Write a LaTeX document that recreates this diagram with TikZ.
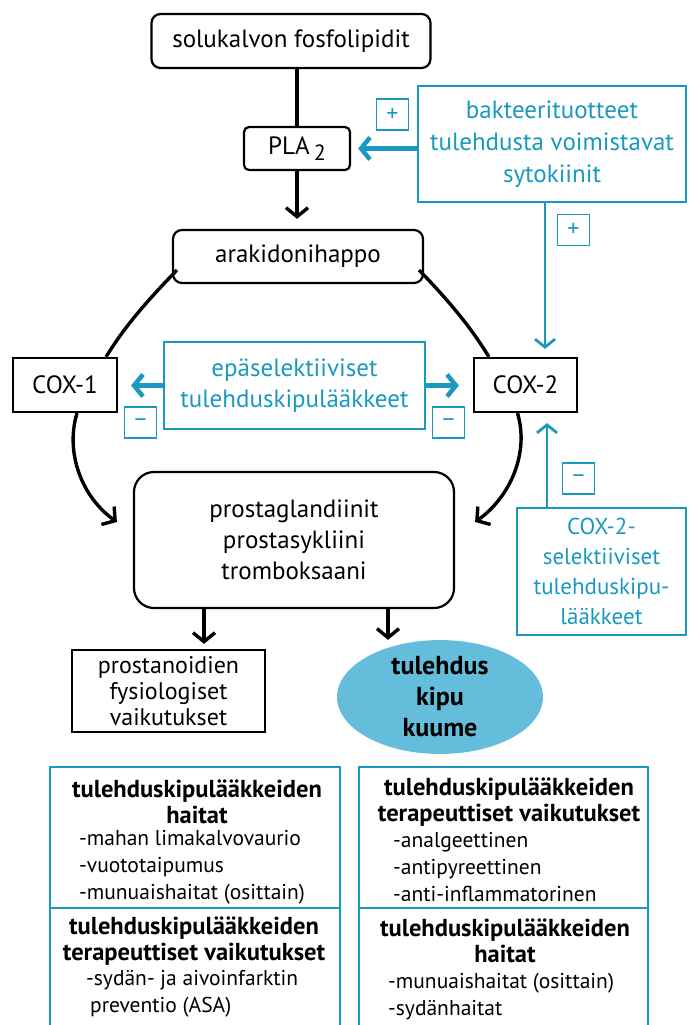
\documentclass[tikz,border=0pt]{standalone}
\usepackage{fontspec}
\setmainfont{PT Sans}
\usetikzlibrary{arrows.meta,calc,shapes.geometric}
\definecolor{cblue}{RGB}{26,153,192}
\definecolor{efill}{RGB}{100,189,218}
\newcommand\fsz[2]{\fontsize{#1}{#2}\selectfont}
\begin{document}
\begin{tikzpicture}[x=1pt,y=-1pt,
  rbox/.style={draw=black,line width=2.2pt,rounded corners=9pt,inner sep=0pt,align=center,font=\fsz{25}{31}},
  sbox/.style={draw=black,line width=2.2pt,inner sep=0pt,align=center,font=\fsz{25}{31}},
  bbox/.style={draw=cblue,line width=2pt,inner sep=0pt,align=center,text=cblue,font=\fsz{25}{32}},
  sign/.style={draw=cblue,line width=1.8pt,inner sep=0pt,text=cblue,minimum width=32pt,minimum height=31pt,font=\fsz{24}{24}},
  conn/.style={line width=3.4pt,-{Straight Barb[length=9pt,width=22pt]}},
  bconn/.style={draw=cblue,line width=4.5pt,-{Straight Barb[length=9pt,width=22pt]}},
  bconnthin/.style={draw=cblue,line width=2.8pt,-{Straight Barb[length=8pt,width=20pt]}},
  cell/.style={draw=cblue,line width=2pt,inner sep=0pt},
  head/.style={font=\bfseries\fsz{24.5}{26},align=center,inner sep=0pt},
  item/.style={font=\fsz{21.5}{27},align=left,inner sep=0pt,anchor=west},
]
\useasboundingbox (0,0) rectangle (688,1025);

% main chain
\node[rbox,minimum width=279pt,minimum height=54pt] (sol) at (291,41) {solukalvon fosfolipidit};
\node[rbox,rounded corners=5pt,minimum width=106pt,minimum height=43pt] (pla) at (297,148.5) {PLA\hspace{4pt}\raisebox{-6pt}{\fsz{22}{22}2}};
\node[rbox,minimum width=250pt,minimum height=53pt] (arak) at (298,256.5) {arakidonihappo};

\node[bbox,minimum width=268pt,minimum height=116pt] (bact) at (552,144) {bakteerituotteet\\tulehdusta voimistavat\\sytokiinit};
\node[sign] (p1) at (392.5,114.5) {+};
\node[sign] (p2) at (573.5,230) {+};

\node[sbox,minimum width=104pt,minimum height=54pt] (cox1) at (65,385) {COX-1};
\node[sbox,minimum width=103pt,minimum height=54pt] (cox2) at (525.5,385) {COX-2};
\node[bbox,minimum width=261pt,minimum height=87pt,font=\fsz{25}{31}] (epa) at (294.5,385.5) {epäselektiiviset\\tulehduskipulääkkeet};
\node[sign] (m1) at (140.5,422.5) {–};
\node[sign] (m2) at (448.5,422.5) {–};

\node[rbox,rounded corners=20pt,minimum width=320pt,minimum height=136pt] (pros) at (294,540) {prostaglandiinit\\prostasykliini\\tromboksaani};
\node[sbox,minimum width=193pt,minimum height=82pt,font=\fsz{24}{26}] (prost) at (168.5,691) {prostanoidien\\fysiologiset\\vaikutukset};
\node[ellipse,fill=efill,minimum width=206pt,minimum height=107pt,inner sep=0pt,align=center,font=\bfseries\fsz{26}{31}] (ell) at (440,697) {tulehdus\\kipu\\kuume};

\node[bbox,minimum width=169pt,minimum height=127pt,font=\fsz{23}{30}] (sel) at (601.5,571.5) {COX-2-\\selektiiviset\\tulehduskipu-\\lääkkeet};
\node[sign] (m3) at (578.5,478.5) {–};

% connectors
\draw[line width=3.4pt] (pla.north |- sol.south) -- (pla.north);
\draw[conn,shorten >=10pt] (pla.south) -- (pla.south |- arak.north);
\draw[bconn,shorten >=7pt] (bact.west |- pla.east) -- (pla.east);
\coordinate (b1) at ($(bact.south)+(-7,0)$);
\draw[bconnthin,shorten >=8pt] (b1) -- (b1 |- cox2.north);
\draw[bconn,shorten >=13pt] (epa.west) -- (cox1.east |- epa.west);
\draw[bconn,shorten >=14pt] (epa.east) -- (cox2.west |- epa.east);
\coordinate (s1) at ($(sel.north west)+(31,0)$);
\draw[bconnthin,shorten >=10pt] (s1) -- (s1 |- cox2.south);

\draw[line width=3.4pt] ($(arak.south west)+(5,-14)$) .. controls +(-26,27) and +(20,-33) .. ($(cox1.north east)+(-12,0)$);
\draw[line width=3.4pt] ($(arak.south east)+(-5,-14)$) .. controls +(26,27) and +(-20,-33) .. ($(cox2.north west)+(16,0)$);
\draw[conn] ($(cox1.south)+(12,0)$) .. controls +(-12,40) and +(-35,-25) .. ($(pros.west)+(-16,-18)$);
\draw[conn] ($(cox2.south)+(-8,0)$) .. controls +(12,40) and +(35,-25) .. ($(pros.east)+(20,-18)$);

\coordinate (pl) at ($(pros.south)+(-90,0)$);
\draw[conn,shorten >=5pt] (pl) -- (pl |- prost.north);
\coordinate (pr) at ($(pros.south)+(94,0)$);
\draw[conn] (pr) -- (pr |- ell.north);

% bottom table
\node[cell,minimum width=290pt,minimum height=141pt] (c11) at (195,837.5) {};
\node[cell,minimum width=290pt,minimum height=130pt] (c12) at (195,973) {};
\node[cell,minimum width=289pt,minimum height=141pt] (c21) at (503.5,837.5) {};
\node[cell,minimum width=289pt,minimum height=130pt] (c22) at (503.5,973) {};

\node[head] (h11) at (197,802) {tulehduskipulääkkeiden\\haitat};
\node[item] (i11) at (79,867) {-mahan limakalvovaurio\\-vuototaipumus\\-munuaishaitat (osittain)};
\node[head] (h12) at (194,941) {tulehduskipulääkkeiden\\terapeuttiset vaikutukset};
\node[item] (i12) at (86,994) {-sydän- ja aivoinfarktin\\\hspace*{4pt}preventio (ASA)};
\node[head] (h21) at (509,802) {tulehduskipulääkkeiden\\terapeuttiset vaikutukset};
\node[item] (i21) at (393,867) {-analgeettinen\\-antipyreettinen\\-anti-inflammatorinen};
\node[head] (h22) at (505,941) {tulehduskipulääkkeiden\\haitat};
\node[item] (i22) at (388,996.5) {-munuaishaitat (osittain)\\-sydänhaitat};
\end{tikzpicture}
\end{document}
